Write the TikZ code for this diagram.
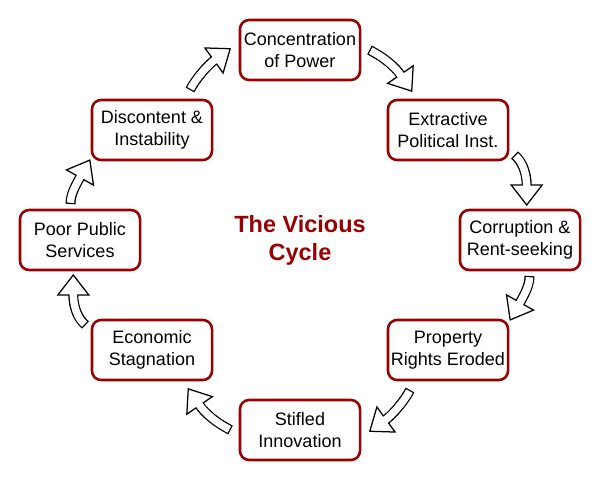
\documentclass[tikz,border=0pt]{standalone}
\usepackage{fontspec}
\setmainfont{Liberation Sans}
\usepackage{xcolor}
\usepackage{tikz}
\usetikzlibrary{calc, positioning}

\definecolor{cyclered}{RGB}{153,0,0}

% hollow bent arrow: tail, control 1, control 2, head base, head angle
\newcommand{\cyclearrow}[5]{%
    \draw[line width=7.1pt] #1 .. controls #2 and #3 .. #4;
    \draw[fill=white, line width=0.9pt, line join=miter]
        ($#4+({#5+90}:15.5)$) -- ($#4+(#5:20)$) -- ($#4+({#5-90}:15.5)$) -- cycle;
    \draw[white, line width=5.3pt, shorten <=0.9pt, shorten >=-1.2pt]
        #1 .. controls #2 and #3 .. #4;
}

\begin{document}
\begin{tikzpicture}[x=0.025cm, y=-0.025cm,
    box/.style={draw=cyclered, line width=1.8pt, rounded corners=6.5pt, fill=white,
        minimum width=3cm, minimum height=1.5cm, inner sep=0pt, align=center,
        font=\fontsize{12.8}{15.6}\selectfont}]
    \useasboundingbox (0,0) rectangle (600,480);

    % 1. Các ô của vòng
    \node[box] (conc) at (300,50) {Concentration\\of Power};
    \node[box] (extr) at (448,130) {Extractive\\Political Inst.};
    \node[box] (corr) at (520,240) {Corruption \&\\Rent-seeking};
    \node[box] (prop) at (448,350) {Property\\Rights Eroded};
    \node[box] (stif) at (300,430) {Stifled\\Innovation};
    \node[box] (econ) at (152,350) {Economic\\Stagnation};
    \node[box] (poor) at (80,240) {Poor Public\\Services};
    \node[box] (disc) at (152,130) {Discontent \&\\Instability};

    % 2. Tiêu đề ở giữa
    \node[text=cyclered, align=center, font=\bfseries\fontsize{16.7}{20}\selectfont]
        (title) at (300,240) {The Vicious\\Cycle};

    % 3. Các mũi tên
    \cyclearrow{(369.5,50)}{(384.6,57.7)}{(395.3,67.2)}{(400.4,74.6)}{55.5}
    \cyclearrow{(514.5,155)}{(522.2,161.4)}{(526.7,173)}{(526.7,185)}{90}
    \cyclearrow{(529.5,276)}{(529.5,286)}{(523.9,295.5)}{(520,302.5)}{119.4}
    \cyclearrow{(410,390)}{(404.6,400.7)}{(392.5,414.8)}{(386,419.5)}{144}
    \cyclearrow{(230.5,430)}{(215.4,422.3)}{(204.7,412.8)}{(199.6,405.4)}{235.5}
    \cyclearrow{(85.5,325)}{(77.8,318.6)}{(73.3,307)}{(73.3,295)}{270}
    \cyclearrow{(70.5,204)}{(70.5,194)}{(76.1,184.5)}{(80,177.5)}{299.4}
    \cyclearrow{(190,90)}{(195.4,79.3)}{(207.5,65.2)}{(214,60.5)}{324}
\end{tikzpicture}
\end{document}
